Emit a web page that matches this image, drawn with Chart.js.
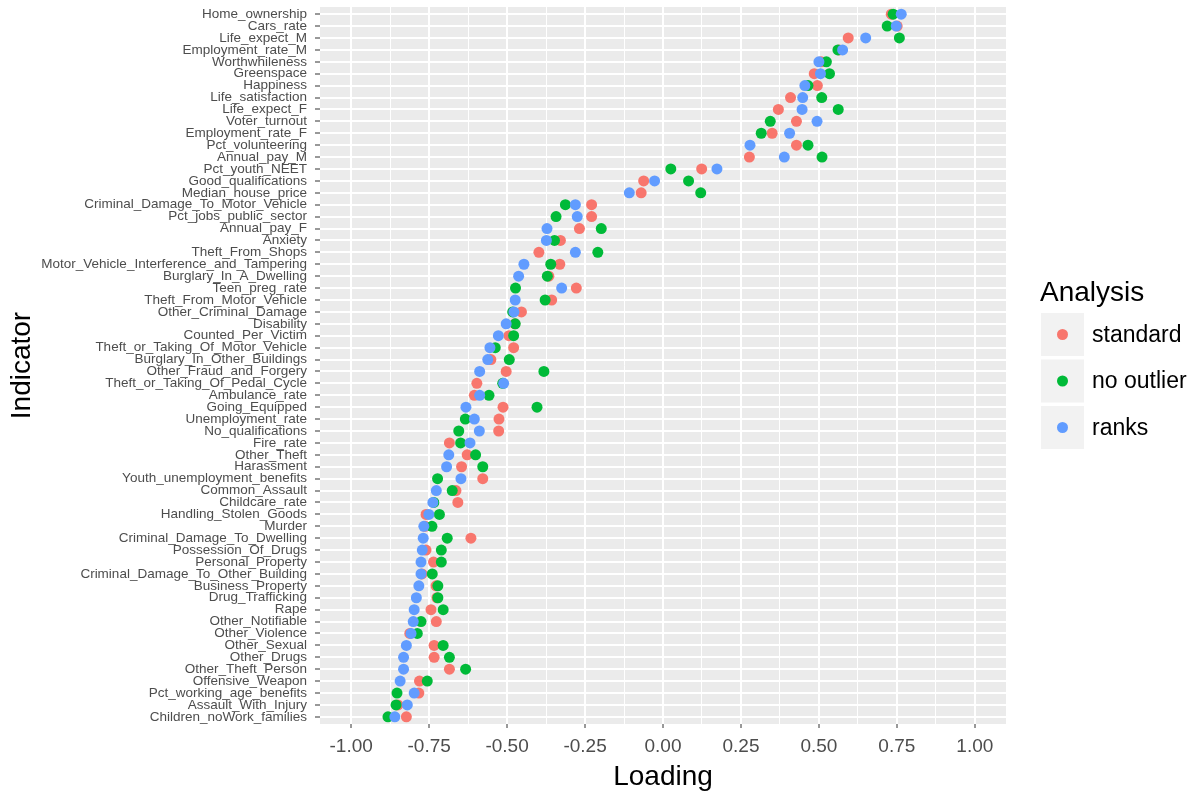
<!DOCTYPE html>
<html lang="en">
<head>
  <meta charset="UTF-8">
  <title>Loading by Indicator</title>
  <script src="https://cdn.jsdelivr.net/npm/chart.js"></script>
  <style>
    html, body {
      margin: 0;
      padding: 0;
      background: #fff;
    }
    #chart-container {
      width: 1193px;
      height: 794px;
    }
  </style>
</head>
<body>
  <div id="chart-container">
    <canvas id="myChart"></canvas>
  </div>

  <script>
    const categories = [
      'Home_ownership', 'Cars_rate', 'Life_expect_M', 'Employment_rate_M', 'Worthwhileness',
      'Greenspace', 'Happiness', 'Life_satisfaction', 'Life_expect_F', 'Voter_turnout',
      'Employment_rate_F', 'Pct_volunteering', 'Annual_pay_M', 'Pct_youth_NEET', 'Good_qualifications',
      'Median_house_price', 'Criminal_Damage_To_Motor_Vehicle', 'Pct_jobs_public_sector', 'Annual_pay_F', 'Anxiety',
      'Theft_From_Shops', 'Motor_Vehicle_Interference_and_Tampering', 'Burglary_In_A_Dwelling', 'Teen_preg_rate', 'Theft_From_Motor_Vehicle',
      'Other_Criminal_Damage', 'Disability', 'Counted_Per_Victim', 'Theft_or_Taking_Of_Motor_Vehicle', 'Burglary_In_Other_Buildings',
      'Other_Fraud_and_Forgery', 'Theft_or_Taking_Of_Pedal_Cycle', 'Ambulance_rate', 'Going_Equipped', 'Unemployment_rate',
      'No_qualifications', 'Fire_rate', 'Other_Theft', 'Harassment', 'Youth_unemployment_benefits',
      'Common_Assault', 'Childcare_rate', 'Handling_Stolen_Goods', 'Murder', 'Criminal_Damage_To_Dwelling',
      'Possession_Of_Drugs', 'Personal_Property', 'Criminal_Damage_To_Other_Building', 'Business_Property', 'Drug_Trafficking',
      'Rape', 'Other_Notifiable', 'Other_Violence', 'Other_Sexual', 'Other_Drugs',
      'Other_Theft_Person', 'Offensive_Weapon', 'Pct_working_age_benefits', 'Assault_With_Injury', 'Children_noWork_families'
    ];

    const standard = [
      0.732, 0.751, 0.594, 0.565, 0.507, 0.485, 0.495, 0.409, 0.370, 0.428,
      0.350, 0.428, 0.277, 0.124, -0.062, -0.070, -0.229, -0.229, -0.268, -0.329,
      -0.398, -0.331, -0.366, -0.278, -0.357, -0.454, -0.475, -0.494, -0.479, -0.552,
      -0.503, -0.597, -0.605, -0.513, -0.526, -0.527, -0.685, -0.628, -0.646, -0.578,
      -0.664, -0.658, -0.760, -0.763, -0.616, -0.760, -0.736, -0.773, -0.728, -0.725,
      -0.744, -0.727, -0.812, -0.734, -0.734, -0.685, -0.781, -0.783, -0.850, -0.823
    ];

    const noOutlier = [
      0.738, 0.719, 0.758, 0.561, 0.524, 0.534, 0.465, 0.509, 0.562, 0.344,
      0.315, 0.465, 0.510, 0.025, 0.082, 0.121, -0.313, -0.343, -0.198, -0.348,
      -0.209, -0.360, -0.371, -0.473, -0.378, -0.482, -0.474, -0.479, -0.538, -0.493,
      -0.382, -0.514, -0.558, -0.404, -0.634, -0.655, -0.649, -0.601, -0.578, -0.723,
      -0.676, -0.735, -0.717, -0.741, -0.692, -0.711, -0.711, -0.740, -0.722, -0.722,
      -0.705, -0.776, -0.788, -0.705, -0.685, -0.633, -0.756, -0.853, -0.856, -0.882
    ];

    const ranks = [
      0.764, 0.748, 0.650, 0.576, 0.500, 0.505, 0.455, 0.448, 0.446, 0.494,
      0.406, 0.279, 0.389, 0.173, -0.027, -0.108, -0.281, -0.275, -0.372, -0.374,
      -0.281, -0.446, -0.463, -0.325, -0.474, -0.478, -0.503, -0.528, -0.555, -0.562,
      -0.588, -0.511, -0.588, -0.632, -0.605, -0.589, -0.619, -0.687, -0.694, -0.648,
      -0.727, -0.738, -0.751, -0.767, -0.769, -0.772, -0.776, -0.776, -0.783, -0.791,
      -0.798, -0.801, -0.808, -0.823, -0.832, -0.832, -0.843, -0.798, -0.820, -0.860
    ];

    const seriesNames = ['standard', 'no outlier', 'ranks'];
    const seriesColors = ['#F8766D', '#00BA38', '#619CFF'];
    const xTicks = [-1, -0.75, -0.5, -0.25, 0, 0.25, 0.5, 0.75, 1];

    const FONT = "'Liberation Sans', Arial, sans-serif";

    function toPoints(values) {
      return values.map((v, i) => ({ x: v, y: i }));
    }

    function isMajor(v) {
      return xTicks.some(t => Math.abs(t - v) < 1e-9);
    }

    // grey panel behind the grid, like ggplot's theme_grey
    const panelBg = {
      id: 'panelBg',
      beforeDraw(chart) {
        const a = chart.chartArea;
        const ctx = chart.ctx;
        ctx.save();
        ctx.fillStyle = '#EBEBEB';
        ctx.fillRect(a.left, a.top, a.right - a.left, a.bottom - a.top);
        ctx.restore();
      }
    };

    // legend with grey key boxes on the right
    const sideLegend = {
      id: 'sideLegend',
      afterDraw(chart) {
        const ctx = chart.ctx;
        const x0 = 1041, top0 = 313, key = 43, step = 46.5;
        ctx.save();
        ctx.fillStyle = '#000';
        ctx.font = '28px ' + FONT;
        ctx.textBaseline = 'alphabetic';
        ctx.textAlign = 'left';
        ctx.fillText('Analysis', 1040, 301);
        chart.data.datasets.forEach((ds, i) => {
          const y = top0 + i * step;
          ctx.fillStyle = '#F2F2F2';
          ctx.fillRect(x0, y, key, key);
          ctx.beginPath();
          ctx.arc(x0 + key / 2, y + key / 2, 5.5, 0, Math.PI * 2);
          ctx.fillStyle = ds.backgroundColor;
          ctx.fill();
          ctx.fillStyle = '#000';
          ctx.font = '23px ' + FONT;
          ctx.textBaseline = 'middle';
          ctx.fillText(ds.label, 1092, y + key / 2 + 1);
        });
        ctx.restore();
      }
    };

    const datasets = [standard, noOutlier, ranks].map((vals, i) => ({
      label: seriesNames[i],
      data: toPoints(vals),
      backgroundColor: seriesColors[i],
      borderColor: seriesColors[i],
      borderWidth: 0,
      pointRadius: 5.5,
      pointHoverRadius: 5.5,
      order: 2 - i
    }));

    const ctx = document.getElementById('myChart').getContext('2d');
    const chart = new Chart(ctx, {
      type: 'scatter',
      data: { datasets: datasets },
      plugins: [panelBg, sideLegend],
      options: {
        responsive: true,
        maintainAspectRatio: false,
        animation: false,
        layout: { padding: { top: 7, right: 187, bottom: 0, left: 0 } },
        plugins: {
          legend: { display: false },
          tooltip: { enabled: false }
        },
        scales: {
          x: {
            type: 'linear',
            min: -1.1,
            max: 1.1,
            afterBuildTicks: axis => {
              const t = [];
              for (let k = -8; k <= 8; k++) t.push({ value: k / 8 });
              axis.ticks = t;
            },
            afterFit: axis => { axis.height = 70; },
            ticks: {
              autoSkip: false,
              maxRotation: 0,
              padding: 7,
              color: '#4D4D4D',
              font: { family: FONT, size: 19 },
              callback: v => isMajor(v) ? v.toFixed(2) : ''
            },
            grid: {
              color: '#FFFFFF',
              lineWidth: c => isMajor(c.tick.value) ? 2 : 1,
              tickColor: c => isMajor(c.tick.value) ? '#333333' : 'rgba(0,0,0,0)',
              tickLength: 4,
              tickWidth: 1
            },
            border: { display: false },
            title: {
              display: true,
              text: 'Loading',
              color: '#000',
              padding: 0,
              font: { family: FONT, size: 28 }
            }
          },
          y: {
            type: 'linear',
            reverse: true,
            min: -0.6,
            max: categories.length - 0.4,
            afterBuildTicks: axis => {
              axis.ticks = categories.map((_, i) => ({ value: i }));
            },
            afterFit: axis => {
              axis.width = 320;
              axis.paddingTop = 0;
              axis.paddingBottom = 0;
            },
            ticks: {
              autoSkip: false,
              padding: 8,
              color: '#4D4D4D',
              font: { family: FONT, size: 13.5 },
              callback: v => categories[v]
            },
            grid: {
              color: '#FFFFFF',
              lineWidth: 2,
              tickColor: '#333333',
              tickLength: 5,
              tickWidth: 1
            },
            border: { display: false },
            title: {
              display: true,
              text: 'Indicator',
              color: '#000',
              padding: { top: 5 },
              font: { family: FONT, size: 28 }
            }
          }
        }
      }
    });
  </script>
</body>
</html>
